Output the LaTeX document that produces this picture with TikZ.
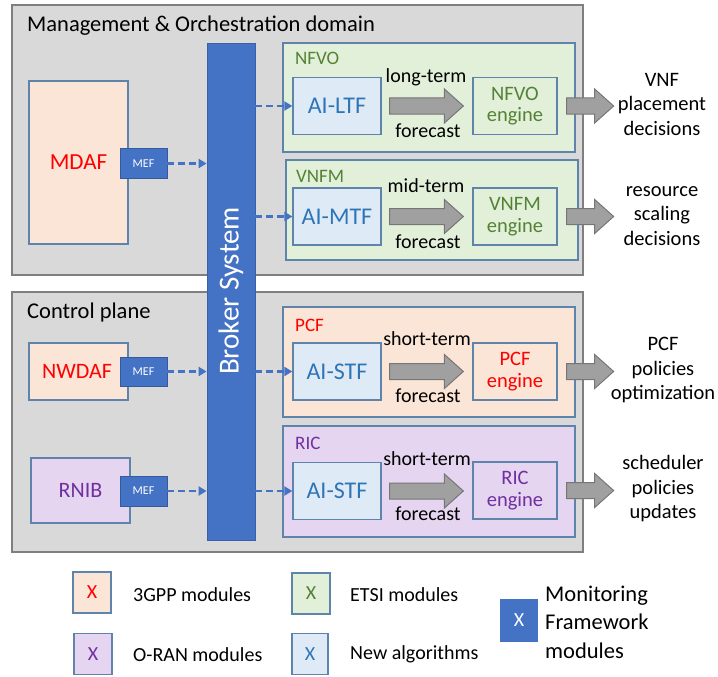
\documentclass[tikz,border=0pt]{standalone}
\usepackage{fontspec}
\setmainfont{Carlito}
\usetikzlibrary{arrows.meta,calc}

\definecolor{domgray}{HTML}{D9D9D9}
\definecolor{domline}{HTML}{7F7F7F}
\definecolor{boxline}{HTML}{5F84AB}
\definecolor{peach}{HTML}{FBE5D6}
\definecolor{mint}{HTML}{E2F0D9}
\definecolor{lilac}{HTML}{E5D5F0}
\definecolor{sky}{HTML}{DEEBF7}
\definecolor{brokerblue}{HTML}{4472C4}
\definecolor{gppred}{HTML}{FF0000}
\definecolor{etsigreen}{HTML}{548235}
\definecolor{oranpurple}{HTML}{7030A0}
\definecolor{algblue}{HTML}{2E75B6}
\definecolor{fatfill}{HTML}{A0A0A0}
\definecolor{fatline}{HTML}{767676}

\newcommand\fsz[2]{\fontsize{#1}{#2}\selectfont}

% thick grey block arrow from #1 to the tip #2 (horizontal)
\newcommand\fatarrow[2]{%
  \path[fatarrowstyle] let \p1=(#1), \p2=(#2) in
    (\x1,\y1+8pt) -- (\x2-19pt,\y1+8pt) -- (\x2-19pt,\y1+17pt) -- (\x2,\y1)
    -- (\x2-19pt,\y1-17pt) -- (\x2-19pt,\y1-8pt) -- (\x1,\y1-8pt) -- cycle;}

\tikzset{
  x=1pt, y=-1pt,
  domainbox/.style={draw=domline, fill=domgray, line width=1.5pt, inner sep=0pt},
  modulebox/.style={draw=boxline, line width=1.3pt, inner sep=0pt, align=center},
  gppbox/.style={modulebox, fill=peach, text=gppred},
  etsibox/.style={modulebox, fill=mint, text=etsigreen},
  oranbox/.style={modulebox, fill=lilac, text=oranpurple},
  algobox/.style={modulebox, fill=sky, text=algblue},
  aibox/.style={algobox, minimum width=88, minimum height=57, font=\fsz{24}{26}},
  enginebox/.style={minimum width=84, minimum height=57, font=\fsz{20.5}{21.5}},
  mefbox/.style={draw=brokerblue!80!black, fill=brokerblue, text=white, inner sep=0pt,
    line width=0.8pt, minimum width=47, minimum height=30, font=\fsz{12}{14}},
  grouplabel/.style={anchor=base west, inner sep=0pt, font=\fsz{19}{21}},
  arrowtext/.style={anchor=base, inner sep=0pt, font=\fsz{20}{22}},
  outcometext/.style={align=center, inner sep=0pt, font=\fsz{20.5}{24.5}},
  dasharrow/.style={draw=brokerblue, line width=2.5pt, dash pattern=on 7pt off 4pt,
    -{Triangle[length=8pt,width=9pt]}},
  fatarrowstyle/.style={fill=fatfill, draw=fatline, line width=1pt, line join=miter},
  legbox/.style={modulebox, minimum width=38, minimum height=41, font=\fsz{20}{22}},
  legtext/.style={anchor=west, inner sep=0pt, font=\fsz{20}{22}},
}

\begin{document}
\begin{tikzpicture}
\useasboundingbox (0,0) rectangle (718,677);

% ---- domains ----
\node[domainbox, minimum width=571, minimum height=270] (mo) at (297.5,140) {};
\node[anchor=base west, inner sep=0pt, font=\fsz{22.5}{24}] (motitle) at (27,32)
  {Management \& Orchestration domain};
\node[domainbox, minimum width=571, minimum height=260] (cp) at (297.5,422) {};
\node[anchor=base west, inner sep=0pt, font=\fsz{22.5}{24}] (cptitle) at (27,318)
  {Control plane};

% ---- broker ----
\node[fill=brokerblue, draw=brokerblue!85!black, line width=0.8pt, inner sep=0pt,
  minimum width=48, minimum height=497] (broker) at (231,291.5) {};
\node[rotate=90, text=white, inner sep=0pt, font=\fsz{29}{31}] (brokertxt) at (231,291)
  {Broker System};

% ---- data sources ----
\node[gppbox, minimum width=99, minimum height=163, font=\fsz{23}{25}] (mdaf) at (78.5,162.5) {MDAF};
\node[mefbox] (mef1) at (143.5,163.5) {MEF};
\node[gppbox, minimum width=99, minimum height=57] (nwdaf) at (78.5,371.5) {};
\node[text=gppred, inner sep=0pt, font=\fsz{22}{24}] (nwdaftxt) at (77,371.5) {NWDAF};
\node[mefbox, minimum height=29] (mef2) at (143.5,371.5) {MEF};
\node[oranbox, minimum width=99, minimum height=65, font=\fsz{22}{24}] (rnib) at (80.5,490.5) {RNIB};
\node[mefbox] (mef3) at (143.5,491) {MEF};

% ---- NFVO ----
\node[etsibox, minimum width=292, minimum height=109] (nfvo) at (429,97.5) {};
\node[grouplabel, text=etsigreen] (nfvolab) at (295,65) {NFVO};
\node[aibox] (ai1) at (337,106) {AI-LTF};
\node[etsibox, enginebox] (eng1) at (515,106) {NFVO\\engine};
\node[arrowtext] (t1a) at (426,82) {long-term};
\node[arrowtext] (t1b) at (428,137) {forecast};

% ---- VNFM ----
\node[etsibox, minimum width=292, minimum height=100] (vnfm) at (432,210) {};
\node[grouplabel, text=etsigreen] (vnfmlab) at (296,182) {VNFM};
\node[aibox] (ai2) at (337,216.5) {AI-MTF};
\node[etsibox, enginebox] (eng2) at (515,216.5) {VNFM\\engine};
\node[arrowtext] (t2a) at (426,192) {mid-term};
\node[arrowtext] (t2b) at (428,248) {forecast};

% ---- PCF ----
\node[gppbox, minimum width=292, minimum height=110] (pcf) at (429,362) {};
\node[grouplabel, text=gppred] (pcflab) at (295,331) {PCF};
\node[aibox] (ai3) at (337,371.5) {AI-STF};
\node[gppbox, enginebox] (eng3) at (515,371.5) {PCF\\engine};
\node[arrowtext] (t3a) at (427,345) {short-term};
\node[arrowtext] (t3b) at (428,402) {forecast};

% ---- RIC ----
\node[oranbox, minimum width=292, minimum height=111] (ric) at (429,481.5) {};
\node[grouplabel, text=oranpurple] (riclab) at (295,449) {RIC};
\node[aibox] (ai4) at (337,491) {AI-STF};
\node[oranbox, enginebox] (eng4) at (515,490.5) {RIC\\engine};
\node[arrowtext] (t4a) at (427,465) {short-term};
\node[arrowtext] (t4b) at (428,520) {forecast};

% ---- outcomes ----
\node[outcometext] (out1) at (662,104) {VNF\\placement\\decisions};
\node[outcometext] (out2) at (662,216) {resource\\scaling\\decisions};
\node[outcometext] (out3) at (663,370) {PCF\\policies\\optimization};
\node[outcometext] (out4) at (663,489) {scheduler\\policies\\updates};

% ---- monitoring flows ----
\foreach \m in {mef1,mef2,mef3}
  \draw[dasharrow] (\m.east) -- (\m.east -| broker.west);
\foreach \a in {ai1,ai2,ai3,ai4}
  \draw[dasharrow] (\a.west -| broker.east) -- (\a.west);

% ---- forecasts and decisions ----
\foreach \i in {1,2,3,4}{
  \fatarrow{$(ai\i.east)+(8,0)$}{$(eng\i.west)+(-9,0)$}
  \fatarrow{$(eng\i.east)+(9,0)$}{$(eng\i.east)+(56,0)$}
}

% ---- legend ----
\node[legbox, fill=peach, text=gppred] (lg1) at (92,592.5) {X};
\node[legtext] (lt1) at (133,595) {3GPP modules};
\node[legbox, fill=mint, text=etsigreen] (lg2) at (311,593.5) {X};
\node[legtext] (lt2) at (350,595) {ETSI modules};
\node[legbox, fill=lilac, text=oranpurple] (lg3) at (93,654) {X};
\node[legtext] (lt3) at (133,655) {O-RAN modules};
\node[legbox, fill=sky, text=algblue, minimum width=36] (lg4) at (310,654) {X};
\node[legtext] (lt4) at (350,654) {New algorithms};
\node[legbox, fill=brokerblue, draw=brokerblue, text=white, minimum width=36] (lg5) at (519,620.5) {X};
\node[legtext, align=left, font=\fsz{22.5}{28.5}] (lt5) at (545,622)
  {Monitoring\\Framework\\modules};
\end{tikzpicture}
\end{document}
